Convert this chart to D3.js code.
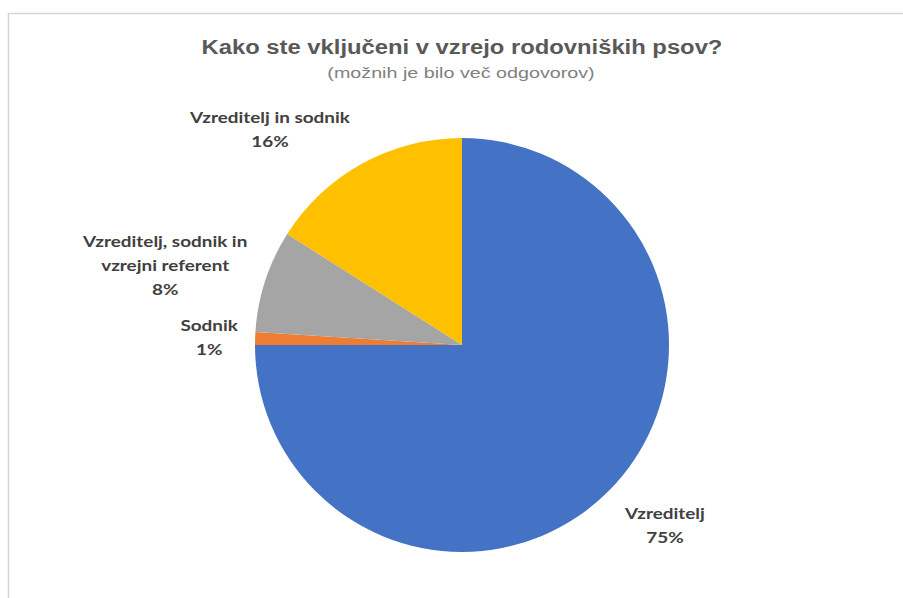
<!DOCTYPE html>
<html>
<head>
<meta charset="utf-8">
<script src="https://cdn.jsdelivr.net/npm/d3@7"></script>
<style>
  body { margin: 0; background: #fff; }
</style>
</head>
<body>
<div id="chart"></div>
<script>
// answers, in the order excel draws them (clockwise from 12 o'clock)
const categories = ["Vzreditelj", "Sodnik", "Vzreditelj, sodnik in\nvzrejni referent", "Vzreditelj in sodnik"]
const values = [75, 1, 8, 16]
const colors = ["#4472C4", "#ED7D31", "#A5A5A5", "#FFC000"]

const title = "Kako ste vključeni v vzrejo rodovniških psov?"
const subtitle = "(možnih je bilo več odgovorov)"

const width = 903
const height = 598
const cx = 462
const cy = 345
const radius = 207

// best-fit label nudges (excel moves them off the plain centroid)
const labelNudge = [[12, -10], [17, 1], [-40, 4], [-62, 22]]

// the screenshot is a bit stretched sideways, so text gets a scaleX too
const svg = d3.select("#chart").append("svg")
    .attr("width", width)
    .attr("height", height)

// chart area frame, runs off the right / bottom of the picture
svg.append("rect")
    .attr("x", 8.5)
    .attr("y", 13.5)
    .attr("width", 1000)
    .attr("height", 1000)
    .attr("fill", "none")
    .attr("stroke", "#d6d6d6")
    .attr("stroke-width", 1.5)

svg.append("text")
    .attr("transform", `translate(${cx}, 54) scale(1.19, 1)`)
    .attr("text-anchor", "middle")
    .style("font-family", "'Liberation Sans', Arial, sans-serif")
    .style("font-weight", "bold")
    .style("font-size", "20px")
    .attr("fill", "#595959")
    .text(title)

svg.append("text")
    .attr("transform", `translate(${cx - 1}, 78) scale(1.36, 1)`)
    .attr("text-anchor", "middle")
    .style("font-family", "'Liberation Sans', Arial, sans-serif")
    .style("font-size", "14.5px")
    .attr("fill", "#7f7f7f")
    .text(subtitle)

const pie = d3.pie().sort(null).value(d => d)
const arcs = pie(values)

const arc = d3.arc().innerRadius(0).outerRadius(radius)
const labelArc = d3.arc().innerRadius(270).outerRadius(270)

const g = svg.append("g").attr("transform", `translate(${cx}, ${cy})`)

g.selectAll("path")
    .data(arcs)
    .join("path")
    .attr("d", arc)
    .attr("fill", (d, i) => colors[i])

const lineH = 24
const labels = g.selectAll("text.label")
    .data(arcs)
    .join("text")
    .attr("class", "label")
    .attr("text-anchor", "middle")
    .style("font-family", "Lato, 'Open Sans', sans-serif")
    .style("font-weight", "bold")
    .style("font-size", "15.5px")
    .attr("fill", "#404040")

labels.each(function (d, i) {
    const [lx, ly] = labelArc.centroid(d)
    const x = lx + labelNudge[i][0]
    const y = ly + labelNudge[i][1]
    const lines = categories[i].split("\n").concat([values[i] + "%"])
    const top = -(lines.length - 1) * lineH / 2 + 5
    d3.select(this)
        .attr("transform", `translate(${x}, ${y}) scale(1.22, 1)`)
        .selectAll("tspan")
        .data(lines)
        .join("tspan")
        .attr("x", 0)
        .attr("y", (t, j) => top + j * lineH)
        .text(t => t)
})
</script>
</body>
</html>
